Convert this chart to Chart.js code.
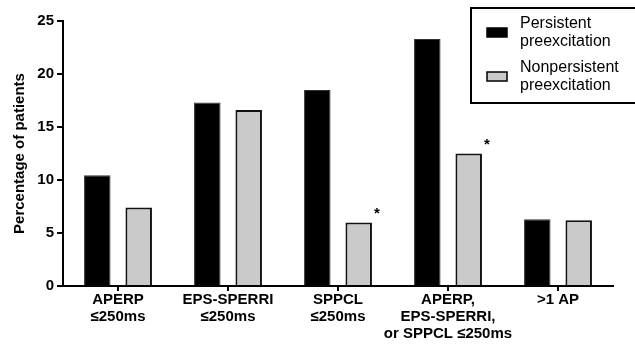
<!DOCTYPE html>
<html>
<head>
<meta charset="utf-8">
<script src="https://cdn.jsdelivr.net/npm/chart.js@4.4.1/dist/chart.umd.min.js"></script>
<style>
  html, body { margin: 0; padding: 0; background: #fff; }
  #wrap { width: 635px; height: 346px; position: relative; }
</style>
</head>
<body>
<div id="wrap"><canvas id="chart" width="635" height="346"></canvas></div>
<script>
// categories and values
const categories = [
  ['APERP', '\u2264250ms'],
  ['EPS-SPERRI', '\u2264250ms'],
  ['SPPCL', '\u2264250ms'],
  ['APERP,', 'EPS-SPERRI,', 'or SPPCL \u2264250ms'],
  ['>1 AP']
];
const persistent = [10.45, 17.3, 18.5, 23.3, 6.3];
const nonpersistent = [7.4, 16.6, 6.0, 12.5, 6.2];
const significant = [false, false, true, true, false]; // asterisk on nonpersistent bar
const seriesNames = [['Persistent', 'preexcitation'], ['Nonpersistent', 'preexcitation']];
const yTicks = [0, 5, 10, 15, 20, 25];

const FONT = '"Liberation Sans", Arial, sans-serif';

// asterisks next to the gray bars
const starPlugin = {
  id: 'stars',
  afterDatasetsDraw(chart) {
    const ctx = chart.ctx;
    const meta = chart.getDatasetMeta(1);
    ctx.save();
    ctx.fillStyle = '#000';
    ctx.font = 'bold 15px ' + FONT;
    ctx.textAlign = 'left';
    ctx.textBaseline = 'middle';
    meta.data.forEach((bar, i) => {
      if (!significant[i]) return;
      ctx.fillText('*', bar.x + bar.width / 2 + 2, bar.y - 9);
    });
    ctx.restore();
  }
};

// boxed legend in the top right corner
const legendPlugin = {
  id: 'boxLegend',
  afterDraw(chart) {
    const ctx = chart.ctx;
    ctx.save();
    ctx.strokeStyle = '#000';
    ctx.lineWidth = 2;
    ctx.fillStyle = '#fff';
    ctx.fillRect(471, 8, 170, 95);
    ctx.strokeRect(471, 8, 170, 95);
    const fills = ['#000', '#cacaca'];
    const tops = [16, 60];
    ctx.font = '16px ' + FONT;
    ctx.textBaseline = 'middle';
    ctx.textAlign = 'left';
    tops.forEach((t, i) => {
      ctx.fillStyle = fills[i];
      ctx.fillRect(487, t + 12, 20, 9);
      ctx.lineWidth = 1.5;
      ctx.strokeStyle = '#000';
      ctx.strokeRect(487, t + 12, 20, 9);
      ctx.fillStyle = '#000';
      seriesNames[i].forEach((line, j) => ctx.fillText(line, 520, t + 8 + j * 18));
    });
    ctx.restore();
  }
};

new Chart(document.getElementById('chart'), {
  type: 'bar',
  data: {
    labels: categories,
    datasets: [
      {
        label: seriesNames[0].join(' '),
        data: persistent,
        backgroundColor: '#000',
        borderColor: '#333',
        borderWidth: 1,
        categoryPercentage: 0.753,
        barPercentage: 0.64
      },
      {
        label: seriesNames[1].join(' '),
        data: nonpersistent,
        backgroundColor: '#cacaca',
        borderColor: '#111',
        borderWidth: 2,
        categoryPercentage: 0.753,
        barPercentage: 0.64
      }
    ]
  },
  plugins: [starPlugin, legendPlugin],
  options: {
    responsive: false,
    animation: false,
    layout: { padding: { top: 21, right: 22, left: 4, bottom: 0 } },
    plugins: {
      legend: { display: false },
      tooltip: { enabled: false }
    },
    scales: {
      x: {
        afterFit: s => { s.height = 60; },
        border: { color: '#000', width: 2 },
        grid: { display: true, drawOnChartArea: false, offset: false, color: '#000', lineWidth: 2, tickLength: 5 },
        ticks: {
          color: '#000',
          font: { family: FONT, size: 15, weight: 'bold', lineHeight: 1.13 },
          maxRotation: 0,
          autoSkip: false,
          padding: 0
        }
      },
      y: {
        min: 0,
        max: 25,
        afterFit: s => { s.width = 59; },
        afterBuildTicks: s => { s.ticks = yTicks.map(v => ({ value: v })); },
        border: { color: '#000', width: 2 },
        grid: { display: true, drawOnChartArea: false, color: '#000', lineWidth: 2, tickLength: 6 },
        ticks: {
          color: '#000',
          font: { family: FONT, size: 15, weight: 'bold' },
          padding: 3
        },
        title: {
          display: true,
          text: 'Percentage of patients',
          color: '#000',
          font: { family: FONT, size: 15, weight: 'bold' },
          padding: { top: 7, bottom: 4 }
        }
      }
    }
  }
});
</script>
</body>
</html>
